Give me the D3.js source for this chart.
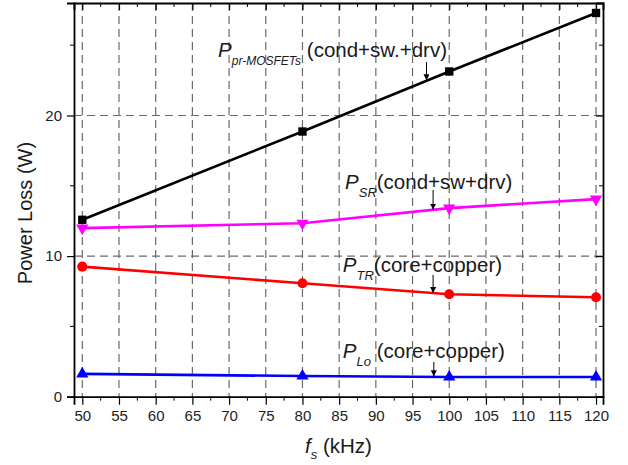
<!DOCTYPE html>
<html>
<head>
<meta charset="utf-8">
<script src="https://cdn.jsdelivr.net/npm/d3@7"></script>
<style>
  body { margin: 0; background: #fff; }
  svg { font-family: "Liberation Sans", Arial, sans-serif; }
</style>
</head>
<body>
<div id="chart"></div>
<script>
(function () {

  // Data
  const freqs = [50, 80, 100, 120]
  const mosfetLoss = [12.58, 18.86, 23.13, 27.29]
  const srLoss = [11.99, 12.34, 13.41, 14.05]
  const trLoss = [9.25, 8.07, 7.29, 7.07]
  const loLoss = [1.62, 1.47, 1.40, 1.40]

  const xTicks = d3.range(50, 121, 5)
  const xMinorTicks = d3.range(52.5, 120, 5)
  const yTicks = [0, 10, 20]
  const yMinorTicks = [5, 15, 25]

  const series = [
    { name: "mosfet", values: mosfetLoss, color: "#000000", symbol: d3.symbolSquare, size: 70, rotate: 0 },
    { name: "sr", values: srLoss, color: "#ff00ff", symbol: d3.symbolTriangle, size: 65, rotate: 180 },
    { name: "tr", values: trLoss, color: "#ff0000", symbol: d3.symbolCircle, size: 80, rotate: 0 },
    { name: "lo", values: loLoss, color: "#0000ff", symbol: d3.symbolTriangle, size: 65, rotate: 0 }
  ]

  // Labels with arrows (data units)
  const notes = [
    { px: 68.5, py: 24.18, sub: "pr-MOSFETs", text: " (cond+sw.+drv)", ax: 96.9, ay1: 23.8, ay2: 22.5 },
    { px: 85.8, py: 14.78, sub: "SR", text: "(cond+sw+drv)", ax: 97.8, ay1: 14.7, ay2: 13.3 },
    { px: 85.5, py: 8.87, sub: "TR", text: "(core+copper)", ax: 97.8, ay1: 8.66, ay2: 7.38 },
    { px: 85.5, py: 2.75, sub: "Lo", text: " (core+copper)", ax: 97.9, ay1: 2.47, ay2: 1.45 }
  ]

  // Margin convention
  const margin = { top: 3, right: 25, bottom: 68.3, left: 74 }
  const width = 628 - margin.left - margin.right
  const height = 465 - margin.top - margin.bottom

  const root = d3.select("#chart").append("svg")
      .attr("width", 628)
      .attr("height", 465)

  const defs = root.append("defs")
  defs.append("marker")
      .attr("id", "arrow")
      .attr("viewBox", "0 0 10 10")
      .attr("refX", 10).attr("refY", 5)
      .attr("markerWidth", 6).attr("markerHeight", 6)
      .attr("markerUnits", "userSpaceOnUse")
      .attr("orient", "auto")
    .append("path")
      .attr("d", "M0,0 L10,5 L0,10 z")
      .attr("fill", "#000")

  const svg = root.append("g")
      .attr("transform", "translate(" + margin.left + "," + margin.top + ")")

  const x = d3.scaleLinear().domain([48.87, 120.95]).range([0, width])
  const y = d3.scaleLinear().domain([0, 28]).range([height, 0])

  // Grid
  svg.append("g").selectAll("line")
    .data(xTicks)
    .join("line")
      .attr("x1", d => x(d)).attr("x2", d => x(d))
      .attr("y1", 0).attr("y2", height)
      .attr("stroke", "#6a6a6a")
      .attr("stroke-width", 1.2)
      .attr("stroke-dasharray", "8,5")

  svg.append("g").selectAll("line")
    .data([10, 20])
    .join("line")
      .attr("x1", 0).attr("x2", width)
      .attr("y1", d => y(d)).attr("y2", d => y(d))
      .attr("stroke", "#6a6a6a")
      .attr("stroke-width", 1.2)
      .attr("stroke-dasharray", "8,5")

  // Axes
  const xAxis = svg.append("g")
      .attr("transform", "translate(0," + height + ")")
      .call(d3.axisBottom(x).tickValues(xTicks).tickSize(8).tickPadding(6))
  xAxis.append("g").selectAll("line")
    .data(xMinorTicks)
    .join("line")
      .attr("x1", d => x(d)).attr("x2", d => x(d))
      .attr("y1", 0).attr("y2", 4)
      .attr("stroke", "#000")

  const yAxis = svg.append("g")
      .call(d3.axisLeft(y).tickValues(yTicks).tickSize(7).tickPadding(5))
  yAxis.append("g").selectAll("line")
    .data(yMinorTicks)
    .join("line")
      .attr("x1", 0).attr("x2", -4)
      .attr("y1", d => y(d)).attr("y2", d => y(d))
      .attr("stroke", "#000")

  // Mirror axes with inward ticks
  svg.append("g")
      .call(d3.axisTop(x).tickValues(xTicks).tickSize(-7).tickFormat(""))
    .append("g").selectAll("line")
    .data(xMinorTicks)
    .join("line")
      .attr("x1", d => x(d)).attr("x2", d => x(d))
      .attr("y1", 0).attr("y2", 4)
      .attr("stroke", "#000")

  svg.append("g")
      .attr("transform", "translate(" + width + ",0)")
      .call(d3.axisRight(y).tickValues(yTicks).tickSize(-7).tickFormat(""))
    .append("g").selectAll("line")
    .data(yMinorTicks)
    .join("line")
      .attr("x1", 0).attr("x2", -4)
      .attr("y1", d => y(d)).attr("y2", d => y(d))
      .attr("stroke", "#000")

  svg.selectAll(".domain").attr("stroke", "#000").attr("stroke-width", 1.8)
  svg.selectAll(".tick line").attr("stroke", "#000").attr("stroke-width", 1.2)
  svg.selectAll(".tick text")
      .attr("font-size", 15)
      .attr("fill", "#222")
      .attr("font-family", "Liberation Sans, Arial, sans-serif")

  // Lines and markers
  const line = d3.line()
    .x((d, i) => x(freqs[i]))
    .y(d => y(d))

  series.forEach(s => {
    svg.append("path")
      .datum(s.values)
      .attr("d", line)
      .attr("fill", "none")
      .attr("stroke", s.color)
      .attr("stroke-width", 2.6)

    svg.append("g").selectAll("path")
      .data(s.values)
      .join("path")
        .attr("d", d3.symbol().type(s.symbol).size(s.size))
        .attr("transform", (d, i) => "translate(" + x(freqs[i]) + "," + y(d) + ") rotate(" + s.rotate + ")")
        .attr("fill", s.color)
  })

  // Annotations
  notes.forEach(n => {
    const t = svg.append("text")
      .attr("x", x(n.px))
      .attr("y", y(n.py))
      .attr("font-size", 20.5)
      .attr("fill", "#1a1a1a")
    t.append("tspan").attr("font-style", "italic").text("P")
    t.append("tspan")
      .attr("font-style", "italic")
      .attr("font-size", n.sub.length > 2 ? 12 : 13)
      .attr("dy", 8)
      .text(n.sub)
    t.append("tspan").attr("dy", -8).text(n.text)

    svg.append("line")
      .attr("x1", x(n.ax)).attr("x2", x(n.ax))
      .attr("y1", y(n.ay1)).attr("y2", y(n.ay2))
      .attr("stroke", "#000")
      .attr("stroke-width", 1)
      .attr("marker-end", "url(#arrow)")
  })

  // Axis titles
  svg.append("text")
    .attr("transform", "translate(" + (32 - margin.left) + "," + (213 - margin.top) + ") rotate(-90)")
    .attr("text-anchor", "middle")
    .attr("font-size", 20)
    .attr("fill", "#1a1a1a")
    .text("Power Loss (W)")

  const xt = svg.append("text")
    .attr("x", 305 - margin.left)
    .attr("y", 453 - margin.top)
    .attr("font-size", 20.5)
    .attr("fill", "#1a1a1a")
  xt.append("tspan").attr("font-style", "italic").text("f")
  xt.append("tspan").attr("font-style", "italic").attr("font-size", 13).attr("dy", 6).text("s")
  xt.append("tspan").attr("dy", -6).text(" (kHz)")

})();
</script>
</body>
</html>
